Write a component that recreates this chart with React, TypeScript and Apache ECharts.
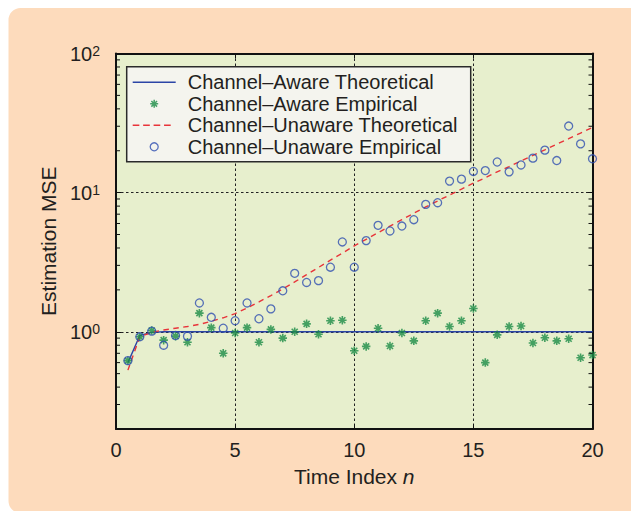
import React, { useEffect, useRef } from "react";
import * as echarts from "echarts";

// Time index n (every half step)
const timeIndex = [
  0.5, 1, 1.5, 2, 2.5, 3, 3.5, 4, 4.5, 5, 5.5, 6, 6.5, 7, 7.5, 8, 8.5, 9, 9.5, 10,
  10.5, 11, 11.5, 12, 12.5, 13, 13.5, 14, 14.5, 15, 15.5, 16, 16.5, 17, 17.5, 18, 18.5, 19, 19.5, 20,
];

// Channel-aware filter: theoretical MSE and empirical MSE
const awareTheoretical = [
  0.6, 0.94, 0.99, 1, 1, 1, 1, 1, 1, 1, 1, 1, 1, 1, 1, 1, 1, 1, 1, 1,
  1, 1, 1, 1, 1, 1, 1, 1, 1, 1, 1, 1, 1, 1, 1, 1, 1, 1, 1, 1,
];
const awareEmpirical = [
  0.62, 0.92, 1.02, 0.87, 0.93, 0.84, 1.36, 1.07, 0.7, 0.98, 1.07, 0.84, 1.04, 0.9, 1.0, 1.14, 0.96, 1.2, 1.21, 0.73,
  0.785, 1.06, 0.79, 0.98, 0.86, 1.2, 1.36, 1.09, 1.2, 1.47, 0.6, 0.95, 1.09, 1.1, 0.83, 0.905, 0.86, 0.89, 0.65, 0.68,
];

// Channel-unaware filter: theoretical MSE and empirical MSE
const unawareTheoretical = [
  0.53, 0.92, 0.99, 1.03, 1.06, 1.09, 1.13, 1.19, 1.26, 1.35, 1.48, 1.64, 1.82, 2.03, 2.28, 2.57, 2.9, 3.27, 3.67, 4.14,
  4.62, 5.15, 5.75, 6.4, 7.11, 7.89, 8.71, 9.62, 10.6, 11.7, 12.8, 14.1, 15.4, 16.9, 18.5, 20.3, 22.3, 24.4, 26.8, 29.4,
];
const unawareEmpirical = [
  0.62, 0.92, 1.01, 0.8, 0.94, 0.93, 1.61, 1.27, 1.06, 1.2, 1.61, 1.24, 1.46, 1.97, 2.63, 2.26, 2.33, 2.91, 4.42, 2.91,
  4.52, 5.82, 5.3, 5.75, 6.39, 8.23, 8.46, 12.1, 12.5, 14.2, 14.4, 16.6, 14.1, 15.8, 17.7, 20.2, 17.0, 30.1, 22.4, 17.5,
];

const seriesNames = [
  "Channel\u2013Aware Theoretical",
  "Channel\u2013Aware Empirical",
  "Channel\u2013Unaware Theoretical",
  "Channel\u2013Unaware Empirical",
];

// Axis ranges and log-axis minor tick values
const X_MIN = 0;
const X_MAX = 20;
const X_STEP = 5;
const Y_MIN = 0.2;
const Y_MAX = 100;
const minorTickValues = [
  0.3, 0.4, 0.5, 0.6, 0.7, 0.8, 0.9, 2, 3, 4, 5, 6, 7, 8, 9, 20, 30, 40, 50, 60, 70, 80, 90,
];

const FONT = '"Liberation Sans", Arial, Helvetica, sans-serif';
const INK = "#231f20";
const BLUE_LINE = "#2b45a6";
const BLUE_MARK = "#2f4fb0";
const GREEN = "#1b8c46";
const RED = "#e8343a";

// Eight-armed asterisk marker built from four thin bars
function asteriskPath(): string {
  const c = 5;
  const len = 5;
  const half = 0.95;
  let d = "";
  [0, 45, 90, 135].forEach((deg) => {
    const a = (deg * Math.PI) / 180;
    const dx = Math.cos(a);
    const dy = Math.sin(a);
    const nx = -dy;
    const ny = dx;
    const pts = [
      [c + len * dx + half * nx, c + len * dy + half * ny],
      [c + len * dx - half * nx, c + len * dy - half * ny],
      [c - len * dx - half * nx, c - len * dy - half * ny],
      [c - len * dx + half * nx, c - len * dy + half * ny],
    ];
    d += "M" + pts.map((p) => p[0].toFixed(3) + " " + p[1].toFixed(3)).join("L") + "Z";
  });
  return "path://" + d;
}

// Legend swatches for the two curves: a thin solid bar and a dashed bar
function barIcon(len: number, thick: number): string {
  return `path://M0 0H${len}V${thick}H0Z`;
}
function dashedIcon(len: number, span: number, thick: number, count: number, gap: number): string {
  const dash = (span - gap * (count - 1)) / count;
  let d = "";
  for (let i = 0; i < count; i++) {
    const x = i * (dash + gap);
    d += `M${x} 0H${x + dash}V${thick}H${x}Z`;
  }
  // hairline anchor so the swatch keeps the full legend width
  d += `M${len - 0.05} 0H${len}V0.01H${len - 0.05}Z`;
  return `path://${d}`;
}

function logLabel(v: number): string {
  const e = Math.log10(v);
  const p = Math.round(e);
  if (Math.abs(e - p) > 1e-6) return "";
  return `{b|10}{s|${p}}`;
}

export default function App() {
  const ref = useRef<HTMLDivElement>(null);

  useEffect(() => {
    if (!ref.current) return;
    const chart = echarts.init(ref.current, null, { renderer: "svg" });
    const pair = (ys: number[]) => timeIndex.map((x, i) => [x, ys[i]]);

    const frameLine = { show: true, onZero: false, lineStyle: { color: "#111", width: 2 } };
    const tick = { show: true, inside: true, length: 5, lineStyle: { color: "#111", width: 1 } };
    const dotted = { show: true, lineStyle: { color: "#222", width: 1, type: [2.5, 2.5] } };

    chart.setOption({
      animation: false,
      textStyle: { fontFamily: FONT },
      grid: {
        left: 116,
        right: 38.5,
        top: 53.5,
        bottom: 82,
        show: true,
        backgroundColor: "#e7efcd",
        borderWidth: 0,
      },
      graphic: [
        {
          type: "rect",
          z: -100,
          silent: true,
          shape: { x: 8.5, y: 8, width: 640, height: 505, r: 12 },
          style: { fill: "#fddbbc" },
        },
        {
          type: "rect",
          z: 15,
          silent: true,
          shape: { x: 126.7, y: 66.7, width: 344, height: 95 },
          style: { fill: "#f4f4ee", stroke: "#2a2a2a", lineWidth: 1.5 },
        },
      ],
      legend: {
        data: [
          { name: seriesNames[0], icon: barIcon(43, 1.4), itemStyle: { color: BLUE_LINE, borderWidth: 0 } },
          { name: seriesNames[1], itemStyle: { color: GREEN, borderWidth: 0 } },
          { name: seriesNames[2], icon: dashedIcon(43, 38, 1.4, 4, 3.8), itemStyle: { color: RED, borderWidth: 0 } },
          { name: seriesNames[3], itemStyle: { color: "rgba(0,0,0,0)", borderColor: BLUE_MARK, borderWidth: 1.3 } },
        ],
        orient: "vertical",
        left: 132.7,
        top: 72.3,
        padding: 0,
        itemWidth: 43,
        itemHeight: 8,
        itemGap: 1.5,
        z: 20,
        selectedMode: false,
        textStyle: {
          fontFamily: FONT,
          fontSize: 20,
          lineHeight: 20,
          color: INK,
          padding: [0, 0, 0, 7],
        },
      },
      xAxis: [
        {
          type: "value",
          position: "bottom",
          min: X_MIN,
          max: X_MAX,
          interval: X_STEP,
          axisLine: frameLine,
          axisTick: tick,
          axisLabel: { margin: 11, fontSize: 20, color: INK, fontFamily: FONT },
          splitLine: dotted,
          name: "{r|Time Index }{i|n}",
          nameLocation: "middle",
          nameGap: 37,
          nameTextStyle: {
            rich: {
              r: { fontSize: 21, color: INK, fontFamily: FONT },
              i: { fontSize: 21, color: INK, fontFamily: FONT, fontStyle: "italic" },
            },
          },
        },
        {
          type: "value",
          position: "top",
          min: X_MIN,
          max: X_MAX,
          interval: X_STEP,
          axisLine: frameLine,
          axisTick: tick,
          axisLabel: { show: false },
          splitLine: { show: false },
        },
      ],
      yAxis: [
        {
          type: "log",
          logBase: 10,
          position: "left",
          min: Y_MIN,
          max: Y_MAX,
          axisLine: frameLine,
          axisTick: tick,
          axisLabel: {
            margin: 16,
            formatter: logLabel,
            rich: {
              b: { fontSize: 20, color: INK, fontFamily: FONT, lineHeight: 20, verticalAlign: "bottom" },
              s: { fontSize: 14, color: INK, fontFamily: FONT, lineHeight: 14, verticalAlign: "top", padding: [0, 0, 10, 0] },
            },
          },
          splitLine: dotted,
          name: "Estimation MSE",
          nameLocation: "middle",
          nameGap: 55,
          nameTextStyle: { fontSize: 21, color: INK, fontFamily: FONT },
        },
        {
          type: "log",
          logBase: 10,
          position: "right",
          min: Y_MIN,
          max: Y_MAX,
          axisLine: frameLine,
          axisTick: tick,
          axisLabel: { show: false },
          splitLine: { show: false },
        },
      ],
      series: [
        {
          name: seriesNames[0],
          type: "line",
          data: pair(awareTheoretical),
          symbol: "none",
          color: BLUE_LINE,
          lineStyle: { color: BLUE_LINE, width: 1.4 },
          z: 3,
        },
        {
          name: seriesNames[1],
          type: "scatter",
          data: pair(awareEmpirical),
          symbol: asteriskPath(),
          symbolSize: 8.5,
          itemStyle: { color: GREEN },
          z: 4,
        },
        {
          name: seriesNames[2],
          type: "line",
          data: pair(unawareTheoretical),
          symbol: "none",
          color: RED,
          lineStyle: { color: RED, width: 1.4, type: [5.5, 4.5] },
          z: 3,
        },
        {
          name: seriesNames[3],
          type: "scatter",
          data: pair(unawareEmpirical),
          symbol: "circle",
          symbolSize: 8,
          itemStyle: { color: "rgba(0,0,0,0)", borderColor: BLUE_MARK, borderWidth: 1.3 },
          z: 5,
        },
        {
          name: "minor ticks",
          type: "custom",
          silent: true,
          clip: false,
          z: 6,
          data: minorTickValues.map((v) => [X_MIN, v]),
          renderItem: (params: any, api: any) => {
            const v = api.value(1);
            const l = api.coord([X_MIN, v]);
            const r = api.coord([X_MAX, v]);
            const st = { stroke: "#111", lineWidth: 1 };
            return {
              type: "group",
              children: [
                { type: "line", shape: { x1: l[0], y1: l[1], x2: l[0] + 4, y2: l[1] }, style: st },
                { type: "line", shape: { x1: r[0], y1: r[1], x2: r[0] - 4, y2: r[1] }, style: st },
              ],
            };
          },
        },
      ],
    });

    return () => chart.dispose();
  }, []);

  return (
    <div
      ref={ref}
      style={{ position: "fixed", left: 0, top: 0, width: 631, height: 511, background: "#ffffff" }}
    />
  );
}
